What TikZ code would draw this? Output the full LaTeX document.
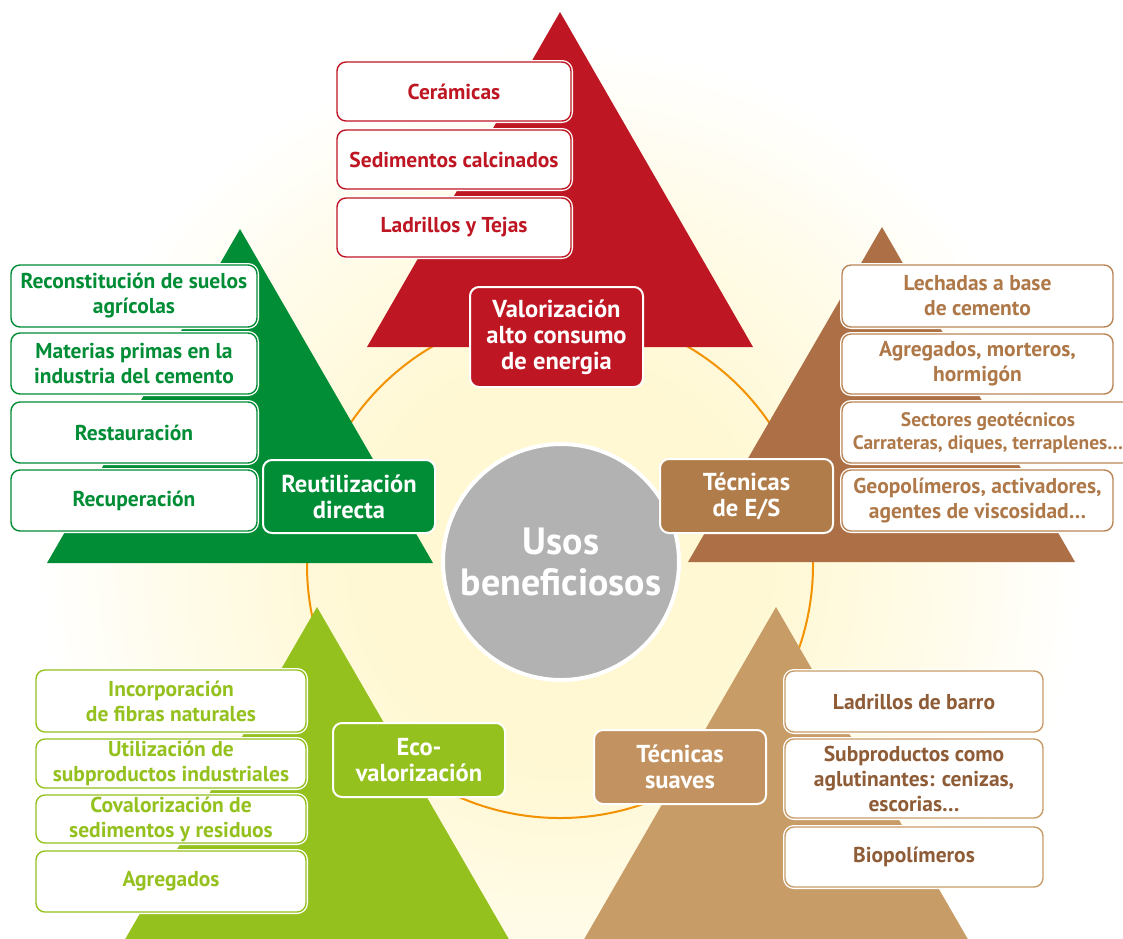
\documentclass[tikz,border=0pt]{standalone}
\usepackage{fontspec}
\setmainfont{PT Sans}
\definecolor{cred}{HTML}{BE1622}
\definecolor{cgreen}{HTML}{008D36}
\definecolor{cbrown}{HTML}{AD6F45}
\definecolor{cbrownlab}{HTML}{B07C49}
\definecolor{cbrowntxt}{HTML}{AE7848}
\definecolor{cbrownbd}{HTML}{B98556}
\definecolor{clime}{HTML}{95C11F}
\definecolor{ctan}{HTML}{C89C66}
\definecolor{ctanlab}{HTML}{C29360}
\definecolor{ctantxt}{HTML}{8E5C36}
\definecolor{corange}{HTML}{F39200}
\definecolor{cgray}{HTML}{B2B2B2}
\definecolor{glowA}{HTML}{FFF8D2}
\definecolor{glowB}{HTML}{FFFBE6}
\pgfdeclareradialshading{glow}{\pgfpoint{0bp}{0bp}}{color(0bp)=(glowA); color(9bp)=(glowA); color(17bp)=(glowB); color(25bp)=(white); color(50bp)=(white)}
\tikzset{
  itembox/.style={draw=#1, fill=white, line width=1.4pt, rounded corners=9pt,
    align=center, inner sep=0pt, preaction={draw=white, line width=4pt},
    font=\bfseries\fontsize{21.5}{25}\selectfont},
  labbox/.style={fill=#1, draw=white, line width=2pt, rounded corners=9pt,
    align=center, inner sep=0pt, text=white,
    font=\bfseries\fontsize{24.5}{26}\selectfont},
  redbox/.style={itembox=cred, text=cred},
  greenbox/.style={itembox=cgreen, text=cgreen},
  esbox/.style={itembox=cbrownbd, text=cbrowntxt},
  ecobox/.style={itembox=clime, text=clime},
  suavebox/.style={itembox=ctan, text=ctantxt},
  smalltext/.style={font=\bfseries\fontsize{19.5}{23}\selectfont},
}
\begin{document}
\begin{tikzpicture}[x=1pt,y=-1pt]
\useasboundingbox (0,0) rectangle (1123,938);
\clip (0,0) rectangle (1123,938);
\fill[white] (0,0) rectangle (1123,938);
% background glow
\shade[shading=glow] (560,565) circle (520);
% orange ring
\draw[corange, line width=2pt] (560,565) circle (253);

% triangles
\fill[cred] (560,12) -- (753,347) -- (367,347) -- cycle;
\fill[cgreen] (240,229) -- (433,563) -- (47,563) -- cycle;
\fill[cbrown] (882,227) -- (1075,562) -- (688,562) -- cycle;
\fill[clime] (317,607) -- (544,1000) -- (90,1000) -- cycle;
\fill[ctan] (776,607) -- (1003,1000) -- (549,1000) -- cycle;

% centre
\node[circle, fill=cgray, draw=white, line width=4pt, minimum size=236, inner sep=0pt,
  text=white, align=center, font=\bfseries\fontsize{38}{41}\selectfont] (usos) at (561,562) {Usos\\beneficiosos};

% red group
\node[redbox, minimum width=234, minimum height=59] (cer) at (454,91.5) {Cerámicas};
\node[redbox, minimum width=234, minimum height=59] (sed) at (454,159.5) {Sedimentos calcinados};
\node[redbox, minimum width=234, minimum height=59] (lad) at (454,227.5) {Ladrillos y Tejas};
\node[labbox=cred, minimum width=173, minimum height=100] (val) at (556.5,337) {Valorización\\alto consumo\\de energia};

% green group
\node[greenbox, minimum width=246, minimum height=62] (rec) at (134,296) {Reconstitución de suelos\\agrícolas};
\node[greenbox, minimum width=246, minimum height=61] (mat) at (134,363.5) {Materias primas en la\\industria del cemento};
\node[greenbox, minimum width=246, minimum height=61] (res) at (134,432.5) {Restauración};
\node[greenbox, minimum width=246, minimum height=61] (rcp) at (134,500.5) {Recuperación};
\node[labbox=cgreen, minimum width=172, minimum height=73] (reu) at (349,496.5) {Reutilización\\directa};

% E/S group
\node[esbox, minimum width=271, minimum height=62] (lec) at (977.5,296) {Lechadas a base\\de cemento};
\node[esbox, minimum width=271, minimum height=60] (agr) at (977.5,364) {Agregados, morteros,\\hormigón};
\node[esbox, smalltext, minimum width=292, minimum height=61] (sec) at (988,432.5) {Sectores geotécnicos\\Carrateras, diques, terraplenes…};
\node[esbox, minimum width=271, minimum height=61] (geo) at (977.5,500.5) {Geopolímeros, activadores,\\agentes de viscosidad…};
\node[labbox=cbrownlab, minimum width=173, minimum height=74] (tes) at (746.5,496) {Técnicas\\de E/S};

% eco group
\node[ecobox, minimum width=270, minimum height=62] (inc) at (171,701) {Incorporación\\de fibras naturales};
\node[ecobox, minimum width=270, minimum height=49] (uti) at (171,763.5) {Utilización de\\subproductos industriales};
\node[ecobox, minimum width=270, minimum height=48] (cov) at (171,819) {Covalorización de\\sedimentos y residuos};
\node[ecobox, minimum width=270, minimum height=61] (agg) at (171,881.5) {Agregados};
\node[labbox=clime, minimum width=172, minimum height=74] (eco) at (419,760) {Eco-\\valorización};

% suaves group
\node[suavebox, minimum width=258, minimum height=61] (bar) at (914,701.5) {Ladrillos de barro};
\node[suavebox, minimum width=258, minimum height=79] (sub) at (914,778.5) {Subproductos como\\aglutinantes: cenizas,\\escorias…};
\node[suavebox, minimum width=258, minimum height=60] (bio) at (914,857) {Biopolímeros};
\node[labbox=ctanlab, minimum width=172, minimum height=74] (sua) at (680,767) {Técnicas\\suaves};
\end{tikzpicture}
\end{document}
